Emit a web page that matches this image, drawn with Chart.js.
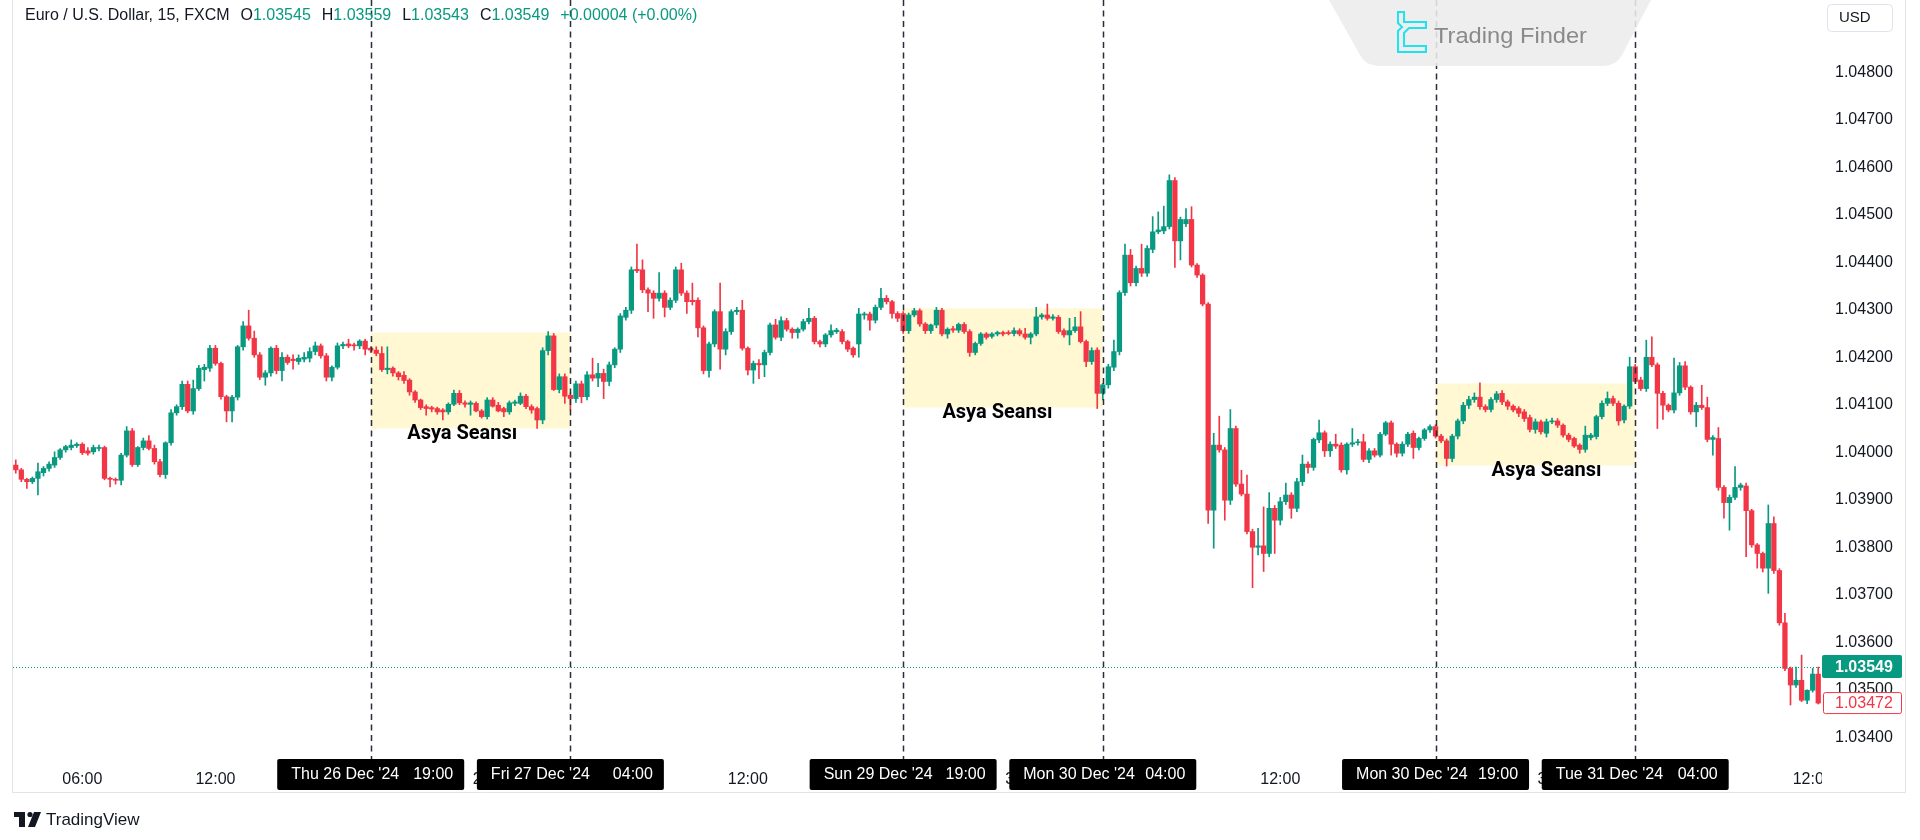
<!DOCTYPE html>
<html>
<head>
<meta charset="utf-8">
<script src="https://cdn.jsdelivr.net/npm/chart.js@4.4.1/dist/chart.umd.min.js"></script>
<style>
html, body { margin: 0; padding: 0; background: #ffffff; }
#wrap { width: 1920px; height: 840px; position: relative; }
</style>
</head>
<body>
<div id="wrap"><canvas id="eurusd"></canvas></div>
<script>
/* EURUSD 15m candles, Thu 26 Dec 03:00 -> Tue 31 Dec 12:15 */
var opens = [
  1.03973,1.03963,1.03943,1.03938,1.03945,1.03957,1.03966,1.03973,1.03989,1.04005,
  1.04010,1.04014,1.04017,1.04003,1.04001,1.04008,1.04010,1.03945,1.03943,1.03941,
  1.03994,1.04045,1.03974,1.04010,1.04024,1.04008,1.03980,1.03953,1.04020,1.04083,
  1.04096,1.04143,1.04087,1.04134,1.04174,1.04177,1.04219,1.04187,1.04117,1.04087,
  1.04116,1.04222,1.04266,1.04240,1.04205,1.04158,1.04167,1.04219,1.04172,1.04200,
  1.04196,1.04191,1.04196,1.04198,1.04212,1.04224,1.04203,1.04158,1.04179,1.04224,
  1.04228,1.04226,1.04224,1.04234,1.04219,1.04215,1.04208,1.04174,1.04177,1.04167,
  1.04162,1.04152,1.04127,1.04110,1.04096,1.04094,1.04092,1.04089,1.04085,1.04101,
  1.04124,1.04104,1.04101,1.04103,1.04087,1.04075,1.04110,1.04099,1.04092,1.04085,
  1.04103,1.04103,1.04118,1.04096,1.04092,1.04068,1.04214,1.04245,1.04132,1.04159,
  1.04120,1.04113,1.04144,1.04117,1.04163,1.04156,1.04166,1.04149,1.04184,1.04217,
  1.04284,1.04299,1.04385,1.04384,1.04342,1.04335,1.04324,1.04335,1.04305,1.04320,
  1.04384,1.04335,1.04320,1.04320,1.04262,1.04172,1.04228,1.04296,1.04217,1.04254,
  1.04296,1.04299,1.04219,1.04173,1.04187,1.04184,1.04210,1.04268,1.04242,1.04277,
  1.04259,1.04252,1.04259,1.04275,1.04282,1.04233,1.04228,1.04247,1.04254,1.04254,
  1.04233,1.04219,1.04228,1.04289,1.04291,1.04278,1.04305,1.04324,1.04317,1.04292,
  1.04292,1.04256,1.04289,1.04298,1.04270,1.04256,1.04268,1.04299,1.04249,1.04260,
  1.04257,1.04269,1.04254,1.04210,1.04229,1.04249,1.04244,1.04249,1.04252,1.04251,
  1.04250,1.04256,1.04249,1.04242,1.04249,1.04285,1.04289,1.04282,1.04284,1.04256,
  1.04247,1.04256,1.04264,1.04233,1.04191,1.04215,1.04124,1.04142,1.04179,1.04212,
  1.04336,1.04415,1.04357,1.04387,1.04377,1.04427,1.04464,1.04466,1.04475,1.04572,
  1.04445,1.04481,1.04490,1.04394,1.04373,1.04312,1.03878,1.04015,1.04005,1.03899,
  1.04050,1.03933,1.03912,1.03833,1.03800,1.03803,1.03787,1.03882,1.03857,1.03896,
  1.03910,1.03882,1.03938,1.03975,1.03968,1.04026,1.04041,1.04003,1.04017,1.04015,
  1.03963,1.04017,1.04020,1.04022,1.03985,1.04003,1.03994,1.04038,1.04062,1.04017,
  1.03998,1.04017,1.04040,1.04010,1.04029,1.04047,1.04054,1.04034,1.04024,1.03987,
  1.04034,1.04066,1.04099,1.04111,1.04116,1.04096,1.04090,1.04111,1.04124,1.04106,
  1.04097,1.04092,1.04085,1.04073,1.04048,1.04064,1.04040,1.04064,1.04066,1.04057,
  1.04036,1.04029,1.04015,1.04006,1.04031,1.04033,1.04075,1.04103,1.04113,1.04103,
  1.04068,1.04097,1.04180,1.04152,1.04134,1.04200,1.04184,1.04124,1.04099,1.04089,
  1.04125,1.04182,1.04137,1.04085,1.04099,1.04094,1.04027,1.04029,1.03926,1.03894,
  1.03905,1.03926,1.03929,1.03877,1.03805,1.03787,1.03756,1.03850,1.03751,1.03641,
  1.03545,1.03510,1.03520,1.03478,1.03499,1.03533
];
var highs = [
  1.03984,1.03966,1.03945,1.03948,1.03977,1.03970,1.03980,1.04001,1.04008,1.04015,
  1.04026,1.04020,1.04020,1.04010,1.04015,1.04015,1.04013,1.03948,1.03946,1.03998,
  1.04054,1.04050,1.04012,1.04030,1.04035,1.04015,1.03985,1.04022,1.04090,1.04100,
  1.04150,1.04150,1.04152,1.04183,1.04185,1.04225,1.04225,1.04190,1.04120,1.04120,
  1.04225,1.04275,1.04299,1.04255,1.04210,1.04172,1.04222,1.04225,1.04210,1.04205,
  1.04205,1.04205,1.04210,1.04220,1.04232,1.04228,1.04208,1.04182,1.04230,1.04232,
  1.04238,1.04230,1.04237,1.04238,1.04222,1.04222,1.04222,1.04222,1.04180,1.04170,
  1.04170,1.04155,1.04130,1.04112,1.04100,1.04097,1.04095,1.04092,1.04104,1.04131,
  1.04130,1.04108,1.04108,1.04106,1.04090,1.04115,1.04115,1.04105,1.04095,1.04108,
  1.04110,1.04125,1.04122,1.04100,1.04095,1.04220,1.04254,1.04250,1.04165,1.04165,
  1.04125,1.04150,1.04150,1.04170,1.04198,1.04187,1.04175,1.04190,1.04220,1.04292,
  1.04305,1.04390,1.04438,1.04405,1.04346,1.04340,1.04378,1.04340,1.04325,1.04390,
  1.04398,1.04340,1.04356,1.04325,1.04266,1.04232,1.04300,1.04356,1.04260,1.04300,
  1.04305,1.04320,1.04222,1.04192,1.04195,1.04215,1.04272,1.04280,1.04285,1.04282,
  1.04262,1.04262,1.04280,1.04303,1.04286,1.04236,1.04250,1.04268,1.04261,1.04258,
  1.04236,1.04222,1.04303,1.04295,1.04295,1.04310,1.04345,1.04330,1.04320,1.04296,
  1.04296,1.04293,1.04303,1.04302,1.04273,1.04270,1.04305,1.04303,1.04262,1.04265,
  1.04272,1.04273,1.04258,1.04232,1.04252,1.04252,1.04252,1.04255,1.04255,1.04256,
  1.04262,1.04260,1.04261,1.04252,1.04305,1.04292,1.04312,1.04290,1.04288,1.04260,
  1.04282,1.04284,1.04296,1.04236,1.04220,1.04220,1.04145,1.04185,1.04236,1.04340,
  1.04438,1.04427,1.04392,1.04438,1.04435,1.04496,1.04506,1.04518,1.04584,1.04578,
  1.04495,1.04513,1.04517,1.04397,1.04376,1.04315,1.04040,1.04076,1.04010,1.04090,
  1.04055,1.03962,1.03952,1.03838,1.03840,1.03885,1.03915,1.03888,1.03905,1.03935,
  1.03915,1.03945,1.03994,1.03980,1.04030,1.04068,1.04045,1.04022,1.04038,1.04020,
  1.04020,1.04050,1.04027,1.04038,1.04008,1.04008,1.04042,1.04065,1.04066,1.04020,
  1.04022,1.04042,1.04045,1.04032,1.04050,1.04058,1.04058,1.04038,1.04028,1.04038,
  1.04070,1.04105,1.04118,1.04125,1.04146,1.04100,1.04115,1.04128,1.04130,1.04110,
  1.04100,1.04096,1.04090,1.04078,1.04070,1.04068,1.04070,1.04072,1.04071,1.04060,
  1.04040,1.04032,1.04018,1.04055,1.04040,1.04078,1.04108,1.04127,1.04118,1.04108,
  1.04100,1.04200,1.04185,1.04158,1.04236,1.04243,1.04188,1.04128,1.04102,1.04198,
  1.04189,1.04191,1.04140,1.04105,1.04141,1.04116,1.04035,1.04052,1.03930,1.03910,
  1.03970,1.03935,1.03935,1.03880,1.03808,1.03790,1.03889,1.03864,1.03755,1.03661,
  1.03548,1.03548,1.03573,1.03500,1.03545,1.03548
];
var lows = [
  1.03956,1.03938,1.03924,1.03934,1.03910,1.03950,1.03960,1.03968,1.03985,1.04000,
  1.04005,1.04010,1.03995,1.03994,1.03996,1.04003,1.03942,1.03927,1.03933,1.03931,
  1.03990,1.03970,1.03970,1.04005,1.04005,1.03975,1.03948,1.03945,1.04015,1.04078,
  1.04090,1.04083,1.04080,1.04130,1.04150,1.04170,1.04183,1.04112,1.04064,1.04064,
  1.04110,1.04215,1.04236,1.04200,1.04153,1.04141,1.04160,1.04165,1.04150,1.04185,
  1.04175,1.04185,1.04190,1.04190,1.04205,1.04198,1.04150,1.04150,1.04175,1.04218,
  1.04220,1.04215,1.04218,1.04205,1.04210,1.04203,1.04170,1.04165,1.04160,1.04152,
  1.04145,1.04120,1.04105,1.04090,1.04078,1.04085,1.04080,1.04068,1.04080,1.04098,
  1.04100,1.04095,1.04078,1.04085,1.04072,1.04070,1.04095,1.04085,1.04075,1.04080,
  1.04098,1.04100,1.04092,1.04082,1.04050,1.04060,1.04205,1.04130,1.04125,1.04103,
  1.04089,1.04105,1.04104,1.04110,1.04150,1.04138,1.04113,1.04140,1.04178,1.04210,
  1.04278,1.04292,1.04378,1.04336,1.04296,1.04282,1.04318,1.04285,1.04300,1.04315,
  1.04330,1.04292,1.04310,1.04243,1.04165,1.04158,1.04222,1.04175,1.04205,1.04248,
  1.04290,1.04215,1.04163,1.04145,1.04155,1.04159,1.04205,1.04238,1.04235,1.04255,
  1.04240,1.04240,1.04255,1.04270,1.04228,1.04222,1.04222,1.04242,1.04250,1.04228,
  1.04212,1.04200,1.04200,1.04280,1.04257,1.04272,1.04300,1.04312,1.04282,1.04275,
  1.04250,1.04250,1.04285,1.04265,1.04250,1.04250,1.04262,1.04245,1.04240,1.04252,
  1.04252,1.04250,1.04202,1.04205,1.04225,1.04238,1.04240,1.04245,1.04245,1.04247,
  1.04245,1.04245,1.04238,1.04228,1.04245,1.04280,1.04278,1.04278,1.04250,1.04242,
  1.04226,1.04252,1.04230,1.04180,1.04185,1.04092,1.04110,1.04135,1.04172,1.04205,
  1.04330,1.04350,1.04350,1.04370,1.04370,1.04420,1.04460,1.04460,1.04470,1.04389,
  1.04405,1.04475,1.04390,1.04368,1.04308,1.03850,1.03798,1.04000,1.03857,1.03890,
  1.03928,1.03908,1.03828,1.03715,1.03784,1.03749,1.03780,1.03787,1.03847,1.03890,
  1.03861,1.03875,1.03930,1.03956,1.03962,1.04020,1.03991,1.03991,1.04008,1.03958,
  1.03954,1.04012,1.04015,1.03980,1.03978,1.03990,1.03990,1.04035,1.03994,1.03990,
  1.03992,1.04012,1.03987,1.04005,1.04025,1.04042,1.04030,1.04020,1.03971,1.03980,
  1.04028,1.04060,1.04092,1.04105,1.04090,1.04085,1.04085,1.04105,1.04100,1.04090,
  1.04085,1.04075,1.04065,1.04043,1.04040,1.04038,1.04032,1.04060,1.04052,1.04032,
  1.04022,1.04010,1.03998,1.04000,1.04026,1.04028,1.04070,1.04098,1.04098,1.04057,
  1.04062,1.04092,1.04145,1.04130,1.04128,1.04180,1.04050,1.04069,1.04085,1.04083,
  1.04120,1.04132,1.04080,1.04054,1.04090,1.04022,1.03994,1.03920,1.03861,1.03836,
  1.03900,1.03920,1.03780,1.03800,1.03756,1.03748,1.03703,1.03745,1.03636,1.03540,
  1.03468,1.03505,1.03475,1.03471,1.03495,1.03470
];
var closes = [
  1.03963,1.03943,1.03938,1.03945,1.03959,1.03966,1.03975,1.03989,1.04005,1.04012,
  1.04015,1.04017,1.03999,1.03998,1.04010,1.04010,1.03945,1.03943,1.03941,1.03994,
  1.04045,1.03974,1.04010,1.04024,1.04008,1.03980,1.03953,1.04020,1.04083,1.04096,
  1.04143,1.04087,1.04134,1.04177,1.04179,1.04219,1.04187,1.04117,1.04087,1.04116,
  1.04222,1.04266,1.04240,1.04205,1.04158,1.04167,1.04219,1.04172,1.04200,1.04189,
  1.04193,1.04198,1.04200,1.04212,1.04224,1.04203,1.04158,1.04179,1.04224,1.04227,
  1.04224,1.04224,1.04234,1.04217,1.04215,1.04208,1.04174,1.04177,1.04167,1.04159,
  1.04151,1.04127,1.04110,1.04094,1.04092,1.04091,1.04085,1.04085,1.04101,1.04124,
  1.04104,1.04101,1.04104,1.04087,1.04075,1.04110,1.04097,1.04087,1.04085,1.04104,
  1.04106,1.04118,1.04096,1.04089,1.04068,1.04214,1.04245,1.04132,1.04159,1.04118,
  1.04113,1.04144,1.04117,1.04163,1.04156,1.04166,1.04149,1.04184,1.04217,1.04287,
  1.04299,1.04384,1.04382,1.04342,1.04335,1.04324,1.04335,1.04305,1.04320,1.04384,
  1.04335,1.04317,1.04317,1.04262,1.04172,1.04228,1.04296,1.04217,1.04254,1.04296,
  1.04299,1.04219,1.04173,1.04187,1.04184,1.04210,1.04268,1.04242,1.04277,1.04259,
  1.04252,1.04259,1.04275,1.04282,1.04233,1.04228,1.04247,1.04256,1.04257,1.04233,
  1.04217,1.04205,1.04291,1.04291,1.04278,1.04305,1.04324,1.04317,1.04292,1.04282,
  1.04256,1.04289,1.04298,1.04270,1.04256,1.04268,1.04299,1.04249,1.04259,1.04257,
  1.04269,1.04254,1.04210,1.04229,1.04249,1.04242,1.04249,1.04252,1.04249,1.04250,
  1.04256,1.04249,1.04242,1.04249,1.04285,1.04289,1.04282,1.04285,1.04254,1.04247,
  1.04256,1.04264,1.04233,1.04191,1.04214,1.04124,1.04142,1.04180,1.04212,1.04336,
  1.04415,1.04357,1.04387,1.04377,1.04429,1.04464,1.04468,1.04475,1.04572,1.04445,
  1.04490,1.04490,1.04394,1.04373,1.04312,1.03878,1.04015,1.04005,1.03899,1.04050,
  1.03933,1.03912,1.03833,1.03800,1.03803,1.03787,1.03882,1.03857,1.03896,1.03910,
  1.03882,1.03938,1.03975,1.03968,1.04027,1.04041,1.04003,1.04017,1.04013,1.03963,
  1.04017,1.04020,1.04022,1.03985,1.04003,1.03994,1.04038,1.04062,1.04017,1.03998,
  1.04017,1.04038,1.04010,1.04029,1.04047,1.04054,1.04034,1.04024,1.03987,1.04034,
  1.04066,1.04099,1.04111,1.04116,1.04096,1.04090,1.04111,1.04123,1.04106,1.04097,
  1.04089,1.04082,1.04071,1.04048,1.04064,1.04043,1.04064,1.04066,1.04057,1.04036,
  1.04027,1.04013,1.04006,1.04036,1.04036,1.04075,1.04103,1.04113,1.04103,1.04066,
  1.04097,1.04180,1.04149,1.04134,1.04200,1.04184,1.04124,1.04099,1.04089,1.04125,
  1.04182,1.04137,1.04085,1.04099,1.04094,1.04027,1.04031,1.03926,1.03894,1.03905,
  1.03926,1.03931,1.03877,1.03805,1.03787,1.03756,1.03850,1.03751,1.03641,1.03545,
  1.03510,1.03520,1.03478,1.03499,1.03533,1.03472
];

if (opens.length !== closes.length || highs.length !== lows.length || opens.length !== highs.length) {
  console.error('length mismatch', opens.length, highs.length, lows.length, closes.length);
}

// price axis
var yTicks = [1.034, 1.035, 1.036, 1.037, 1.038, 1.039, 1.040, 1.041, 1.042, 1.043, 1.044, 1.045, 1.046, 1.047, 1.048];
var yMin = 1.03348, yMax = 1.04952;

// time axis labels (candle index -> text)
var xTickIdx = [12, 36, 84, 132, 180, 228, 276, 324];
var xTickText = ["06:00", "12:00", "27", "12:00", "30", "12:00", "31", "12:00"];

// session marks (candle index)
var dashIdx = [64, 100, 160, 196, 256, 292];
var dashDate = ["Thu 26 Dec '24", "Fri 27 Dec '24", "Sun 29 Dec '24", "Mon 30 Dec '24", "Mon 30 Dec '24", "Tue 31 Dec '24"];
var dashTime = ["19:00", "04:00", "19:00", "04:00", "19:00", "04:00"];

var sessions = [
  { from: 64, to: 100, top: 1.04252, bottom: 1.04050, labelAt: 80.5 },
  { from: 160, to: 196, top: 1.04303, bottom: 1.04094, labelAt: 177 },
  { from: 256, to: 292, top: 1.04145, bottom: 1.03972, labelAt: 276 }
];
var sessionText = "Asya Seansı";

var lastPrice = 1.03549;
var markPrice = 1.03472;
var legendTitle = "Euro / U.S. Dollar, 15, FXCM";
var legendOhlc = [["O", "1.03545"], ["H", "1.03559"], ["L", "1.03543"], ["C", "1.03549"]];
var legendChange = "+0.00004 (+0.00%)";

var UP = "#089981", DOWN = "#F23645", TXT = "#131722";
var FONT = "'Liberation Sans', Arial, sans-serif";

// 15 min labels, NY time, weekend gap Fri 17:00 -> Sun 17:00
var DAYS = ["Sun", "Mon", "Tue", "Wed", "Thu", "Fri", "Sat"];
var MONS = ["Jan", "Feb", "Mar", "Apr", "May", "Jun", "Jul", "Aug", "Sep", "Oct", "Nov", "Dec"];
var labels = [];
var t = Date.UTC(2024, 11, 26, 3, 0);
for (var i = 0; i < opens.length; i++) {
  var d = new Date(t);
  labels.push(DAYS[d.getUTCDay()] + " " + d.getUTCDate() + " " + MONS[d.getUTCMonth()] + " '24 " +
    String(d.getUTCHours()).padStart(2, "0") + ":" + String(d.getUTCMinutes()).padStart(2, "0"));
  t += 15 * 60000;
  var n = new Date(t);
  if (n.getUTCDay() === 5 && n.getUTCHours() === 17 && n.getUTCMinutes() === 0) t += 48 * 3600000;
}

function candleColor(ctx) {
  var k = ctx.dataIndex;
  return closes[k] >= opens[k] ? UP : DOWN;
}

function roundRect(ctx, x, y, w, h, r) {
  ctx.beginPath();
  ctx.moveTo(x + r, y);
  ctx.lineTo(x + w - r, y);
  ctx.quadraticCurveTo(x + w, y, x + w, y + r);
  ctx.lineTo(x + w, y + h - r);
  ctx.quadraticCurveTo(x + w, y + h, x + w - r, y + h);
  ctx.lineTo(x + r, y + h);
  ctx.quadraticCurveTo(x, y + h, x, y + h - r);
  ctx.lineTo(x, y + r);
  ctx.quadraticCurveTo(x, y, x + r, y);
  ctx.closePath();
}

var tvPlugin = {
  id: "tvDecor",
  beforeDatasetsDraw: function (chart) {
    var ctx = chart.ctx, xs = chart.scales.x, ys = chart.scales.y;
    ctx.save();
    ctx.fillStyle = "rgba(255, 235, 130, 0.35)";
    sessions.forEach(function (s) {
      var x1 = xs.getPixelForValue(s.from), x2 = xs.getPixelForValue(s.to);
      var y1 = ys.getPixelForValue(s.top), y2 = ys.getPixelForValue(s.bottom);
      ctx.fillRect(x1, y1, x2 - x1, y2 - y1);
    });
    ctx.restore();
  },
  afterDatasetsDraw: function (chart) {
    var ctx = chart.ctx, xs = chart.scales.x, ys = chart.scales.y, a = chart.chartArea;
    ctx.save();
    // current price dotted line
    var py = Math.round(ys.getPixelForValue(lastPrice)) + 0.5;
    ctx.strokeStyle = UP;
    ctx.lineWidth = 1;
    ctx.setLineDash([1, 2]);
    ctx.beginPath();
    ctx.moveTo(a.left, py);
    ctx.lineTo(a.right, py);
    ctx.stroke();
    // session verticals
    ctx.strokeStyle = "#2a2e39";
    ctx.lineWidth = 1.5;
    ctx.setLineDash([6, 4.5]);
    dashIdx.forEach(function (k) {
      var x = Math.round(xs.getPixelForValue(k)) + 0.5;
      ctx.beginPath();
      ctx.moveTo(x, 0);
      ctx.lineTo(x, a.bottom);
      ctx.stroke();
    });
    ctx.setLineDash([]);
    // session labels
    ctx.fillStyle = "#000000";
    ctx.font = "bold 20px Roboto, " + FONT;
    ctx.textAlign = "center";
    ctx.textBaseline = "middle";
    sessions.forEach(function (s) {
      ctx.fillText(sessionText, xs.getPixelForValue(s.labelAt), ys.getPixelForValue(s.bottom) + 5);
    });
    ctx.restore();
  },
  afterDraw: function (chart) {
    var ctx = chart.ctx, xs = chart.scales.x, ys = chart.scales.y, a = chart.chartArea;
    ctx.save();

    // clip time labels running into the price axis
    ctx.fillStyle = "#ffffff";
    ctx.fillRect(a.right + 1, a.bottom, 90, 30);

    // date/time boxes on the time axis
    ctx.font = "16px " + FONT;
    ctx.textBaseline = "middle";
    dashIdx.forEach(function (k, j) {
      var cx = xs.getPixelForValue(k);
      var bx = cx - 93.5;
      ctx.fillStyle = "#000000";
      roundRect(ctx, bx, 759, 187, 31, 2);
      ctx.fill();
      ctx.fillStyle = "#ffffff";
      ctx.textAlign = "left";
      ctx.fillText(dashDate[j], bx + 14, 775);
      ctx.textAlign = "right";
      ctx.fillText(dashTime[j], bx + 187 - 11, 775);
    });

    // price labels on the axis
    ctx.font = "16px " + FONT;
    ctx.textAlign = "left";
    var gy = ys.getPixelForValue(lastPrice);
    ctx.fillStyle = UP;
    roundRect(ctx, 1822, gy - 11.5, 80, 23, 2);
    ctx.fill();
    ctx.fillStyle = "#ffffff";
    ctx.font = "bold 16px " + FONT;
    ctx.fillText(lastPrice.toFixed(5), 1835, gy + 1);
    var ry = ys.getPixelForValue(markPrice);
    ctx.fillStyle = "#ffffff";
    roundRect(ctx, 1823.5, ry - 10.5, 78, 21, 2);
    ctx.fill();
    ctx.strokeStyle = DOWN;
    ctx.lineWidth = 1;
    ctx.stroke();
    ctx.fillStyle = DOWN;
    ctx.font = "16px " + FONT;
    ctx.fillText(markPrice.toFixed(5), 1835, ry + 1);

    // frame
    ctx.strokeStyle = "#e0e3eb";
    ctx.lineWidth = 1;
    ctx.beginPath();
    ctx.moveTo(12.5, 0); ctx.lineTo(12.5, 792.5);
    ctx.lineTo(1905.5, 792.5); ctx.lineTo(1905.5, 0);
    ctx.stroke();

    // legend
    ctx.font = "16px " + FONT;
    ctx.textAlign = "left";
    ctx.textBaseline = "middle";
    var x = 25;
    ctx.fillStyle = TXT;
    ctx.fillText(legendTitle, x, 16);
    x += ctx.measureText(legendTitle).width + 11;
    legendOhlc.forEach(function (p) {
      ctx.fillStyle = TXT;
      ctx.fillText(p[0], x, 16);
      x += ctx.measureText(p[0]).width;
      ctx.fillStyle = UP;
      ctx.fillText(p[1], x, 16);
      x += ctx.measureText(p[1]).width + 11;
    });
    ctx.fillStyle = UP;
    ctx.fillText(legendChange, x, 16);

    // USD button
    ctx.strokeStyle = "#e0e3eb";
    roundRect(ctx, 1827.5, 4.5, 65, 27, 4);
    ctx.fillStyle = "#ffffff";
    ctx.fill();
    ctx.stroke();
    ctx.fillStyle = TXT;
    ctx.font = "15px " + FONT;
    ctx.fillText("USD", 1839, 18);

    // Trading Finder watermark
    ctx.fillStyle = "rgba(236, 236, 236, 0.88)";
    ctx.beginPath();
    ctx.moveTo(1329, 0);
    ctx.lineTo(1651, 0);
    ctx.lineTo(1622, 55);
    ctx.quadraticCurveTo(1616, 66, 1603, 66);
    ctx.lineTo(1379, 66);
    ctx.quadraticCurveTo(1366, 66, 1360, 55);
    ctx.closePath();
    ctx.fill();
    ctx.strokeStyle = "#1fe3ef";
    ctx.lineWidth = 2;
    ctx.beginPath();
    ctx.moveTo(1398, 12); ctx.lineTo(1404, 12); ctx.lineTo(1404, 22); ctx.lineTo(1426, 22);
    ctx.lineTo(1426, 28); ctx.lineTo(1409, 28); ctx.lineTo(1404, 33); ctx.lineTo(1404, 46);
    ctx.lineTo(1426, 46); ctx.lineTo(1426, 52); ctx.lineTo(1398, 52); ctx.lineTo(1398, 31);
    ctx.lineTo(1402, 27); ctx.lineTo(1398, 23); ctx.closePath();
    ctx.stroke();
    ctx.fillStyle = "#8a8a8a";
    ctx.font = "22px " + FONT;
    ctx.textAlign = "left";
    var tfw = ctx.measureText("Trading Finder").width;
    ctx.save();
    ctx.translate(1434, 37);
    ctx.scale(153 / tfw, 1);
    ctx.fillText("Trading Finder", 0, 0);
    ctx.restore();

    // TradingView logo
    ctx.fillStyle = TXT;
    ctx.fillRect(14, 812, 11, 5);
    ctx.fillRect(19, 812, 6, 15);
    ctx.beginPath();
    ctx.arc(30, 814.5, 2.6, 0, Math.PI * 2);
    ctx.fill();
    ctx.beginPath();
    ctx.moveTo(34, 812); ctx.lineTo(41, 812); ctx.lineTo(35, 827); ctx.lineTo(28, 827);
    ctx.closePath();
    ctx.fill();
    ctx.font = "17px " + FONT;
    ctx.textBaseline = "middle";
    ctx.fillText("TradingView", 46, 820);

    ctx.restore();
  }
};

var chart = new Chart(document.getElementById("eurusd"), {
  type: "bar",
  data: {
    labels: labels,
    datasets: [
      {
        label: "body",
        data: opens.map(function (o, k) { return [o, closes[k]]; }),
        backgroundColor: candleColor,
        borderWidth: 0,
        borderSkipped: false,
        barThickness: 4.6,
        minBarLength: 1,
        grouped: false
      },
      {
        label: "wick",
        data: lows.map(function (l, k) { return [l, highs[k]]; }),
        backgroundColor: candleColor,
        borderWidth: 0,
        borderSkipped: false,
        barThickness: 1,
        minBarLength: 1,
        grouped: false
      }
    ]
  },
  options: {
    responsive: true,
    maintainAspectRatio: false,
    animation: false,
    layout: { padding: { left: 13, right: 22, top: 0, bottom: 48 } },
    plugins: {
      legend: { display: false },
      tooltip: { enabled: false }
    },
    scales: {
      x: {
        type: "category",
        offset: true,
        grid: { display: false, drawTicks: false },
        border: { display: false },
        ticks: {
          autoSkip: false,
          maxRotation: 0,
          padding: 8,
          color: TXT,
          font: { family: FONT, size: 16 },
          callback: function (v) {
            var j = xTickIdx.indexOf(v);
            return j < 0 ? null : xTickText[j];
          }
        },
        afterBuildTicks: function (s) {
          s.ticks = xTickIdx.map(function (v) { return { value: v }; });
        },
        afterFit: function (s) { s.height = 30; s.paddingLeft = 0; s.paddingRight = 0; }
      },
      y: {
        type: "linear",
        position: "right",
        min: yMin,
        max: yMax,
        grid: { display: false, drawTicks: false },
        border: { display: false },
        ticks: {
          padding: 14,
          color: TXT,
          font: { family: FONT, size: 16 },
          callback: function (v) { return v.toFixed(5); }
        },
        afterBuildTicks: function (s) {
          s.ticks = yTicks.map(function (v) { return { value: v }; });
        },
        afterFit: function (s) { s.width = 77; s.paddingTop = 0; s.paddingBottom = 0; }
      }
    }
  },
  plugins: [tvPlugin]
});
</script>
</body>
</html>
